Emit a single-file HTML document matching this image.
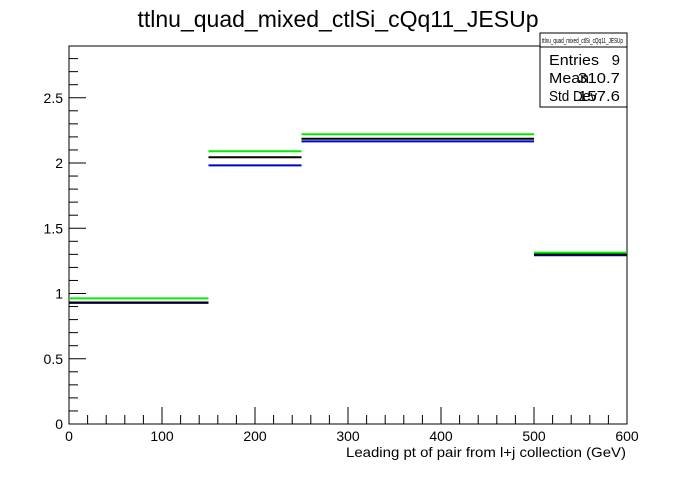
<!DOCTYPE html>
<html><head><meta charset="utf-8"><style>
body{margin:0;background:#fff;width:696px;height:472px;overflow:hidden;font-family:"Liberation Sans",sans-serif}
</style></head><body>
<svg width="696" height="472" font-family="Liberation Sans, sans-serif">
<rect width="696" height="472" fill="#fff"/>
<text x="338" y="27" font-size="23" text-anchor="middle">ttlnu_quad_mixed_ctlSi_cQq11_JESUp</text>
<g id="plot"></g>
<g>
<rect x="540" y="33" width="87" height="74" fill="#fff" stroke="#000"/>
<line x1="540" y1="47" x2="627" y2="47" stroke="#000"/>
<text x="542" y="43" font-size="7" textLength="81" lengthAdjust="spacingAndGlyphs">ttlnu_quad_mixed_ctlSi_cQq11_JESUp</text>
<text x="549" y="65" font-size="15" textLength="50" lengthAdjust="spacingAndGlyphs">Entries</text><text x="620" y="65" font-size="15" text-anchor="end">9</text>
<text x="549" y="83" font-size="15" textLength="40" lengthAdjust="spacingAndGlyphs">Mean</text><text x="578" y="83" font-size="15" textLength="42" lengthAdjust="spacingAndGlyphs">310.7</text>
<text x="549" y="101" font-size="15" textLength="48" lengthAdjust="spacingAndGlyphs">Std Dev</text><text x="578" y="101" font-size="15" textLength="42" lengthAdjust="spacingAndGlyphs">157.6</text>
</g>
<text x="346" y="457" font-size="14" textLength="280" lengthAdjust="spacingAndGlyphs">Leading pt of pair from l+j collection (GeV)</text>
</svg>
<script>
const binEdges=[0,150,250,500,600];
const greenVals=[0.963,2.090,2.220,1.313];
const blackVals=[0.931,2.044,2.186,1.300];
const blueVals=[0.928,1.982,2.166,1.293];
const xTicks=[0,100,200,300,400,500,600];
const yTicks=[0,0.5,1,1.5,2,2.5];
const X0=69,X1=627,Y0=424,YT=46;
const sx=v=>X0+(v-0)*(X1-X0)/600;
const sy=v=>Y0-v*130.5;
const g=document.getElementById('plot');
const NS='http://www.w3.org/2000/svg';
function mk(t,a){const e=document.createElementNS(NS,t);for(const k in a)e.setAttribute(k,a[k]);g.appendChild(e);return e;}
const frame=mk('rect',{x:X0,y:YT,width:X1-X0,height:Y0-YT,fill:'none',stroke:'#000'});


for(let v=0;v<=2.85;v+=0.1){const y=sy(v);const major=Math.abs(v*2-Math.round(v*2))<1e-6;
const t=mk('line',{x1:X0,x2:X0+(major?17:9),y1:y,y2:y,stroke:'#000'});

}
yTicks.forEach(v=>{const t=mk('text',{x:X0-6,y:sy(v)+5,'font-size':14,'text-anchor':'end'});t.textContent=String(v);

});
for(let v=0;v<=600;v+=20){const x=sx(v);const major=v%100===0;
const t=mk('line',{x1:x,x2:x,y1:Y0,y2:Y0-(major?17:9),stroke:'#000'});

}
xTicks.forEach(v=>{const t=mk('text',{x:sx(v),y:Y0+17,'font-size':14,'text-anchor':'middle'});t.textContent=String(v);

});
[[blueVals,'#0000cc','blue'],[blackVals,'#000','black'],[greenVals,'#00ee00','green']].forEach(([vals,c,n])=>{
vals.forEach((v,i)=>{const l=mk('line',{x1:sx(binEdges[i]),x2:sx(binEdges[i+1]),y1:sy(v),y2:sy(v),stroke:c,'stroke-width':2});

});});
</script>
</body></html>
